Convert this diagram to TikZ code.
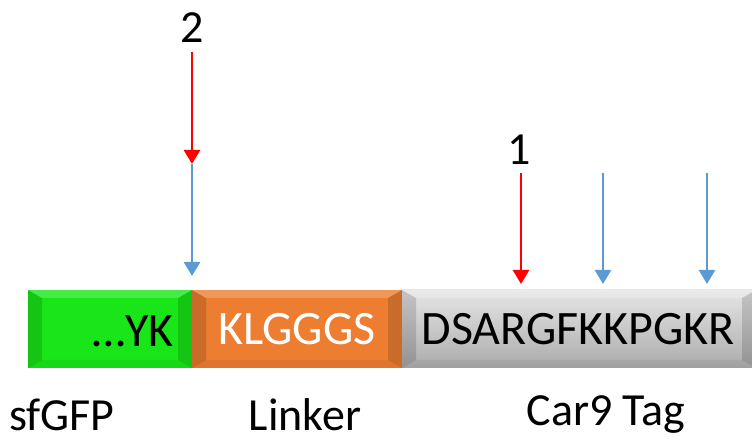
\documentclass[tikz,border=0pt]{standalone}
\usepackage{fontspec}
\setmainfont{Carlito}
\usetikzlibrary{arrows.meta,calc}
\definecolor{gfpgreen}{RGB}{24,230,24}
\definecolor{linkorange}{RGB}{237,125,49}
\definecolor{cutred}{RGB}{255,0,0}
\definecolor{siteblue}{RGB}{91,155,213}
\tikzset{
	segment/.style={minimum height=78pt, inner sep=0pt, font=\fontsize{48}{56}\selectfont,
		path picture={
			\fill[black,opacity=.14] (path picture bounding box.north west) -- ($(path picture bounding box.north west)+(14pt,-8pt)$)
				-- ($(path picture bounding box.south west)+(14pt,8pt)$) -- (path picture bounding box.south west) -- cycle;
			\fill[black,opacity=.14] (path picture bounding box.north east) -- ($(path picture bounding box.north east)+(-14pt,-8pt)$)
				-- ($(path picture bounding box.south east)+(-14pt,8pt)$) -- (path picture bounding box.south east) -- cycle;
			\fill[white,opacity=.2] (path picture bounding box.north west) -- ($(path picture bounding box.north west)+(14pt,-8pt)$)
				-- ($(path picture bounding box.north east)+(-14pt,-8pt)$) -- (path picture bounding box.north east) -- cycle;
			\fill[black,opacity=.06] (path picture bounding box.south west) -- ($(path picture bounding box.south west)+(14pt,8pt)$)
				-- ($(path picture bounding box.south east)+(-14pt,8pt)$) -- (path picture bounding box.south east) -- cycle;
		}},
	caption/.style={font=\fontsize{46}{54}\selectfont},
	site/.style={line width=2.6pt, -{Triangle[width=16pt,length=14pt]}}
}
\begin{document}
\begin{tikzpicture}[x=1pt,y=-1pt]
	\useasboundingbox (0,0) rectangle (752,443);
	% protein segments
	\node[segment, fill=gfpgreen, minimum width=164pt] (gfp) at (110,329) {};
	\node[anchor=east, font=\fontsize{48}{56}\selectfont, inner sep=0pt] (yk) at (174,331) {…YK};
	\node[segment, fill=linkorange, text=white, minimum width=210pt] (linker) at (297,329) {KLGGGS};
	\node[segment, top color=black!10, bottom color=black!33, minimum width=354pt] (tag) at (579,329) {};
	\node[font=\fontsize{48}{56}\selectfont] (seq) at (578,329) {DSARGFKKPGKR};
	% captions
	\node[caption] (gfpname) at (62,415) {sfGFP};
	\node[caption] (linkname) at (305,415) {Linker};
	\node[caption] (tagname) at (606,415) {Car9 Tag};
	% sites
	\path (192,52) coordinate (r2top)
		++ (0,112) coordinate (r2end)
		++ (0,112) coordinate (b2end);
	\path (521,173) coordinate (r1top)
		++ (0,111) coordinate (r1end)
		+ (82,0) coordinate (b1end)
		+ (186,0) coordinate (b3end)
		+ (82,-111) coordinate (b1top)
		+ (186,-111) coordinate (b3top);
	\node[font=\fontsize{46}{54}\selectfont] (two) at (192,28) {2};
	\node[font=\fontsize{46}{54}\selectfont] (one) at (519,150) {1};
	\draw[site, siteblue] (r2end) -- (b2end);
	\draw[site, cutred] (r2top) -- (r2end);
	\draw[site, cutred] (r1top) -- (r1end);
	\draw[site, siteblue] (b1top) -- (b1end);
	\draw[site, siteblue] (b3top) -- (b3end);
\end{tikzpicture}
\end{document}
